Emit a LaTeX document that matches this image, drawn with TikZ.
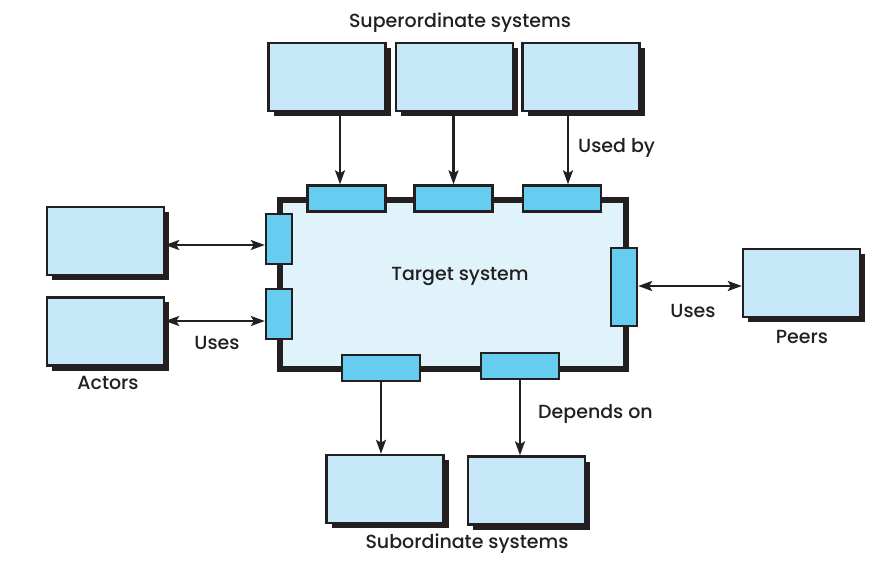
\documentclass[tikz,border=0pt]{standalone}
\usepackage{fontspec}
\setmainfont{Poppins}[UprightFont=* Medium]
\usetikzlibrary{arrows.meta,shadows}
\definecolor{boxblue}{RGB}{198,232,248}
\definecolor{portblue}{RGB}{102,204,240}
\definecolor{targetblue}{RGB}{224,243,251}
\definecolor{ink}{RGB}{35,31,32}
\begin{document}
\begin{tikzpicture}[x=1pt,y=-1pt,
  sysbox/.style={draw=ink,line width=2.4pt,fill=boxblue,minimum width=117pt,minimum height=68pt,
    drop shadow={shadow xshift=5pt,shadow yshift=-5pt,fill=ink,opacity=1}},
  hport/.style={draw=ink,line width=2.4pt,fill=portblue,minimum width=78pt,minimum height=26pt},
  vport/.style={draw=ink,line width=2.4pt,fill=portblue,minimum width=26pt,minimum height=#1},
  txt/.style={text=ink,font=\fontsize{19}{22}\selectfont,inner sep=0pt},
  arr/.style={draw=ink,line width=2.3pt,-{Stealth[length=14pt,width=10pt,inset=3pt]}},
  darr/.style={draw=ink,line width=2.3pt,{Stealth[length=14pt,width=10pt,inset=3pt]}-{Stealth[length=14pt,width=10pt,inset=3pt]}}]
\useasboundingbox (0,0) rectangle (886,577);
%target system
\node[draw=ink,line width=6pt,fill=targetblue,minimum width=346pt,minimum height=169pt] (target) at (453,284.5) {};
\node[txt] (tname) at (460,276) {Target system};
%superordinate systems
\node[sysbox] (sup1) at (327,77) {};
\node[sysbox] (sup2) at (454.5,77) {};
\node[sysbox] (sup3) at (581,77) {};
\node[txt] (suplabel) at (460,23) {Superordinate systems};
\node[hport] (pt1) at (346.5,198.5) {};
\node[hport] (pt2) at (453.5,198.5) {};
\node[hport] (pt3) at (562,198.5) {};
\draw[arr] ([xshift=-6.5pt]pt1.north |- sup1.south) -- ([xshift=-6.5pt]pt1.north);
\draw[arr] (pt2.north |- sup2.south) -- (pt2.north);
\draw[arr] ([xshift=6pt]pt3.north |- sup3.south) -- ([xshift=6pt]pt3.north);
\node[txt,anchor=west] (usedby) at (578,148) {Used by};
%actors
\node[sysbox] (act1) at (105.5,241) {};
\node[sysbox] (act2) at (105.5,331.5) {};
\node[txt] (actlabel) at (108,383) {Actors};
\node[vport=50pt] (pl1) at (279,239) {};
\node[vport=50pt] (pl2) at (279,314) {};
\draw[darr] ([yshift=-4pt]act1.east) -- ([yshift=-4pt]act1.east -| pl1.west);
\draw[darr] ([yshift=10.5pt]act2.east) -- ([yshift=10.5pt]act2.east -| pl2.west);
\node[txt] (uses1) at (217,343) {Uses};
%peers
\node[sysbox] (peer) at (801.5,283) {};
\node[txt] (peerlabel) at (802,337) {Peers};
\node[vport=78pt] (pr) at (624,287) {};
\draw[darr] ([yshift=-3pt]peer.west -| pr.east) -- ([yshift=-3pt]peer.west);
\node[txt] (uses2) at (693,311) {Uses};
%subordinate systems
\node[hport] (pb1) at (381,368) {};
\node[hport] (pb2) at (520,366) {};
\node[sysbox] (sub1) at (385,489) {};
\node[sysbox] (sub2) at (526.5,490.5) {};
\node[txt] (sublabel) at (467,544) {Subordinate systems};
\draw[arr] (pb1.south) -- (pb1.south |- sub1.north);
\draw[arr] (pb2.south) -- (pb2.south |- sub2.north);
\node[txt,anchor=west] (dependson) at (538,414) {Depends on};
\end{tikzpicture}
\end{document}
